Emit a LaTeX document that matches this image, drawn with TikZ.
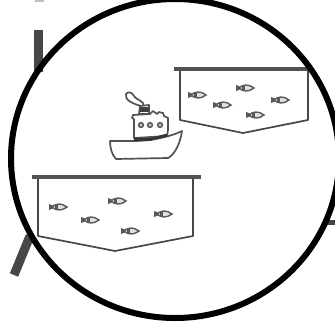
\documentclass[tikz,border=0pt]{standalone}
\tikzset{
  stick/.style={draw=black!72,line width=9pt},
  rim/.style={draw=black!68,line width=4pt},
  tank/.style={draw=black!72,line width=1.7pt,line join=round},
  shipline/.style={draw=black!68,line width=1.7pt,line join=round,fill=white},
  fish/.pic={
    \fill[black!65] (-9,-3) -- (-5,-1.5) -- (-5,1.5) -- (-9,3) -- cycle;
    \draw[black!65,line width=1.4pt,fill=black!12] (-6,0) .. controls (-2,-4) and (4,-4) .. (9,0) .. controls (4,4) and (-2,4) .. (-6,0) -- cycle;
    \fill[black!65] (-3,-2) rectangle (-0.5,2);
  }
}
\begin{document}
\begin{tikzpicture}[x=1pt,y=-1pt]
\useasboundingbox (0,0) rectangle (335,333);
\fill[black!25] (35,0) rectangle (44,1.5);
\draw[stick] (38.5,30) -- (38.5,72);
\draw[stick] (30,236) -- (14,275);
\draw[draw=black!72,line width=5pt] (326,222) -- (335,222);
% upper tank
\draw[tank] (180,69) -- (180,120) -- (243,133) -- (308,120) -- (308,69);
\draw[rim] (174,69) -- (312,69);
% lower tank
\draw[tank] (38,177) -- (38,236) -- (115,251) -- (193,236) -- (193,177);
\draw[rim] (32,177) -- (201,177);
% fish
\foreach \p in {(197,95),(222,105),(245,88),(280,100),(255,115),(58,207),(90,220),(117,201),(163,214),(130,231)}
  \pic at \p {fish};
% ship
\draw[shipline] (126,94) .. controls (128,91) and (132,92) .. (134,96) .. controls (136,99) and (140,100) .. (143,103) .. controls (145,106) and (141,107) .. (138,105) .. controls (134,104) and (124,100) .. (126,94) -- cycle;
\draw[shipline] (139,114) -- (140,106) -- (149,105) -- (149,114) -- cycle;
\fill[black!75] (140,107) rectangle (148.5,112);
\draw[shipline] (134,138) -- (134,119) -- (132,118) -- (133,115) -- (150,114) -- (153,111) -- (157,114) -- (159,112) -- (163,113) -- (164,116) -- (168,118) -- (168,130) -- (167,136) -- cycle;
\foreach \x in {141,150,160} \draw[black!68,line width=1.4pt,fill=black!25] (\x,125) circle (2.4);
\draw[shipline] (110,141) -- (134,141) .. controls (150,141) and (170,137) .. (182,131) .. controls (180,145) and (174,155) .. (168,158) -- (116,159) .. controls (112,155) and (110,148) .. (110,141) -- cycle;
\draw[black!80,line width=2.8pt] (134,139.5) -- (150,139.5) -- (167,135);
% lens
\draw[black,line width=6pt] (175,158.5) ellipse (164 and 159.5);
\end{tikzpicture}
\end{document}
